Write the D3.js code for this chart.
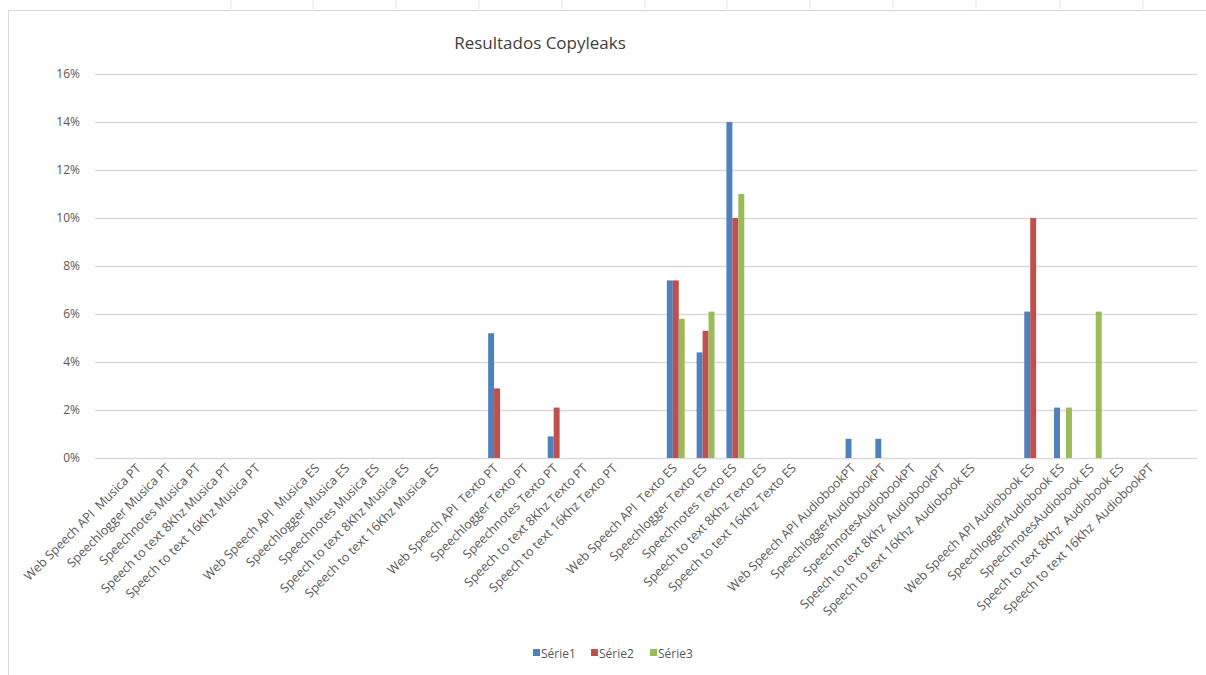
<!DOCTYPE html>
<html>
<head>
<meta charset="utf-8">
<script src="https://cdn.jsdelivr.net/npm/d3@7"></script>
<style>
  body { margin: 0; background: #fff; }
  text { font-family: "Open Sans", "Noto Sans", sans-serif; }
</style>
</head>
<body>
<svg id="chart" width="1206" height="675"></svg>
<script>
// blank entries are the empty gaps between groups in the original sheet
const categories = [
  "",
  "Web Speech API  Musica PT", "Speechlogger Musica PT", "Speechnotes Musica PT",
  "Speech to text 8Khz Musica PT", "Speech to text 16Khz Musica PT",
  "",
  "Web Speech API  Musica ES", "Speechlogger Musica ES", "Speechnotes Musica ES",
  "Speech to text 8Khz Musica ES", "Speech to text 16Khz Musica ES",
  "",
  "Web Speech API  Texto PT", "Speechlogger Texto PT", "Speechnotes Texto PT",
  "Speech to text 8Khz Texto PT", "Speech to text 16Khz Texto PT",
  "",
  "Web Speech API  Texto ES", "Speechlogger Texto ES", "Speechnotes Texto ES",
  "Speech to text 8Khz Texto ES", "Speech to text 16Khz Texto ES",
  "",
  "Web Speech API AudiobookPT", "SpeechloggerAudiobookPT", "SpeechnotesAudiobookPT",
  "Speech to text 8Khz  AudiobookPT", "Speech to text 16Khz  Audiobook ES",
  "",
  "Web Speech API Audiobook ES", "SpeechloggerAudiobook ES", "SpeechnotesAudiobook ES",
  "Speech to text 8Khz  Audiobook ES", "Speech to text 16Khz  AudiobookPT",
  ""
];

const serie1 = [0, 0,0,0,0,0, 0, 0,0,0,0,0, 0, 5.2,0,0.9,0,0, 0, 7.4,4.4,14,0,0, 0, 0.8,0.8,0,0,0, 0, 6.1,2.1,0,0,0, 0];
const serie2 = [0, 0,0,0,0,0, 0, 0,0,0,0,0, 0, 2.9,0,2.1,0,0, 0, 7.4,5.3,10,0,0, 0, 0,0,0,0,0, 0, 10,0,0,0,0, 0];
const serie3 = [0, 0,0,0,0,0, 0, 0,0,0,0,0, 0, 0,0,0,0,0, 0, 5.8,6.1,11,0,0, 0, 0,0,0,0,0, 0, 0,2.1,6.1,0,0, 0];

const seriesNames = ["Série1", "Série2", "Série3"];
const colors = ["#4F81BD", "#C0504D", "#9BBB59"];
const yTicks = [0, 2, 4, 6, 8, 10, 12, 14, 16];

const svg = d3.select("#chart");
const plotLeft = 95, plotRight = 1197, plotTop = 74, plotBottom = 458;

// sheet column marks above the chart frame
const colMarks = [231, 313, 396, 479, 562, 645, 727, 810, 893, 976, 1060, 1143];
svg.selectAll(".colmark").data(colMarks).enter().append("line")
  .attr("x1", d => d).attr("x2", d => d).attr("y1", 0).attr("y2", 9)
  .attr("stroke", "#e3e3e3");

// chart frame
svg.append("rect")
  .attr("x", 8.5).attr("y", 10.5).attr("width", 1210).attr("height", 700)
  .attr("fill", "none").attr("stroke", "#d9d9d9");

svg.append("text")
  .attr("x", 540).attr("y", 49)
  .attr("text-anchor", "middle")
  .style("font-size", "17px").style("fill", "#404040")
  .text("Resultados Copyleaks");

const y = d3.scaleLinear().domain([0, 16]).range([plotBottom, plotTop]);

const x = d3.scaleBand()
  .domain(categories.map((d, i) => i))
  .range([plotLeft, plotRight])
  .paddingInner(0.4)
  .paddingOuter(0.2);

const x1 = d3.scaleBand().domain([0, 1, 2]).range([0, x.bandwidth()]);

// gridlines
svg.append("g").selectAll("line").data(yTicks).enter().append("line")
  .attr("x1", plotLeft).attr("x2", plotRight)
  .attr("y1", d => Math.round(y(d)) + 0.5).attr("y2", d => Math.round(y(d)) + 0.5)
  .attr("stroke", "#d9d9d9").attr("stroke-width", 1.5);

svg.append("g").selectAll("text").data(yTicks).enter().append("text")
  .attr("x", 80).attr("y", d => y(d) + 4)
  .attr("text-anchor", "end")
  .style("font-size", "12px").style("fill", "#595959")
  .text(d => d + "%");

const allSeries = [serie1, serie2, serie3];
allSeries.forEach((vals, s) => {
  svg.append("g").selectAll("rect")
    .data(vals.map((v, i) => ({ i: i, v: v })).filter(d => d.v > 0))
    .enter().append("rect")
      .attr("x", d => x(d.i) + x1(s))
      .attr("y", d => y(d.v))
      .attr("width", x1.bandwidth())
      .attr("height", d => y(0) - y(d.v))
      .attr("fill", colors[s]);
});

// rotated category labels
svg.append("g").selectAll("text").data(categories).enter().append("text")
  .attr("transform", (d, i) => "translate(" + (x(i) + x.bandwidth() / 2 + 2) + "," + (plotBottom + 11) + ")rotate(-45)")
  .attr("text-anchor", "end")
  .attr("xml:space", "preserve")
  .style("white-space", "pre")
  .style("font-size", "12.5px").style("fill", "#595959")
  .text(d => d);

// legend
const legendX = [533, 591, 650];
seriesNames.forEach((name, s) => {
  svg.append("rect")
    .attr("x", legendX[s]).attr("y", 649).attr("width", 7).attr("height", 7)
    .attr("fill", colors[s]);
  svg.append("text")
    .attr("x", legendX[s] + 8).attr("y", 658)
    .style("font-size", "12px").style("fill", "#595959")
    .text(name);
});
</script>
</body>
</html>
